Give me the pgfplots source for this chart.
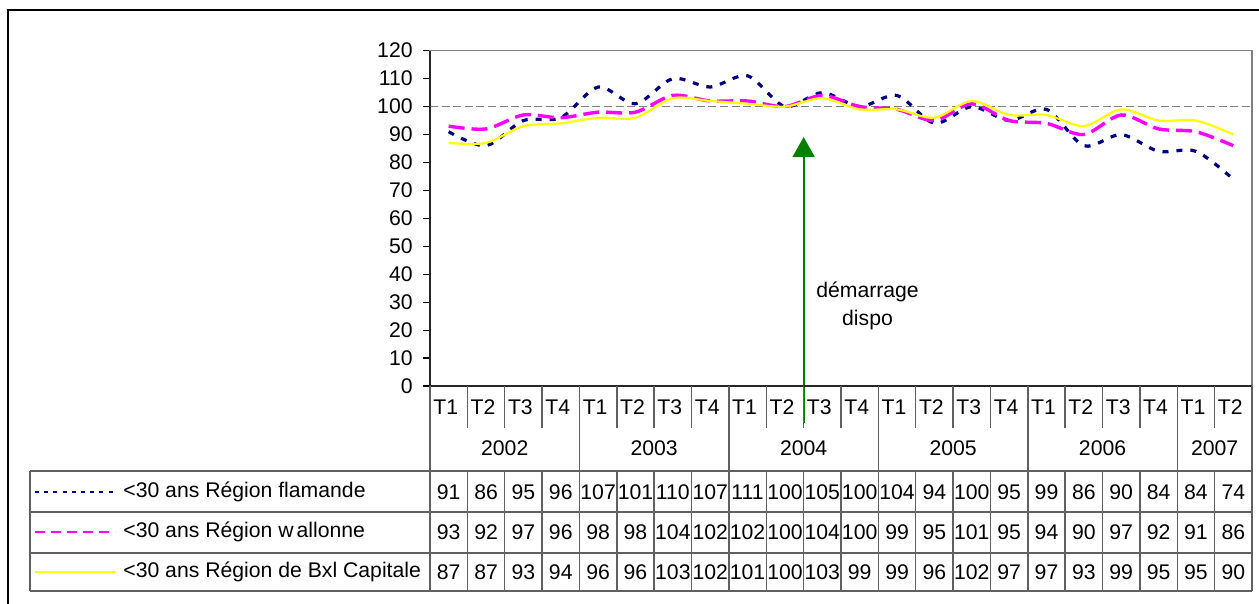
\documentclass[border=0pt]{standalone}
\usepackage{fontspec}
\setmainfont{Liberation Sans}
\usepackage{pgfplots}
\usepackage{pgfplotstable}
\pgfplotsset{compat=1.18}
\usetikzlibrary{arrows.meta}
\definecolor{navyc}{RGB}{0,0,128}
\definecolor{magc}{RGB}{255,0,255}
\definecolor{yelc}{RGB}{255,255,0}
\definecolor{grnc}{RGB}{0,128,0}
\definecolor{bordc}{RGB}{128,128,128}
\definecolor{tabc}{RGB}{96,96,96}

\pgfplotstableread{
idx fl  wa  bx
0   91  93  87
1   86  92  87
2   95  97  93
3   96  96  94
4   107 98  96
5   101 98  96
6   110 104 103
7   107 102 102
8   111 102 101
9   100 100 100
10  105 104 103
11  100 100 99
12  104 99  99
13  94  95  96
14  100 101 102
15  95  95  97
16  99  94  97
17  86  90  93
18  90  97  99
19  84  92  95
20  84  91  95
21  74  86  90
}\datatable

\begin{document}
\fontsize{10.6}{12.7}\selectfont
\begin{tikzpicture}
\useasboundingbox (-215pt,-109pt) rectangle (414.5pt,193pt);
% outer chart frame (left and top visible)
\draw[black, line width=0.8pt] (-211pt,-109pt) -- (-211pt,188pt) -- (414.5pt,188pt);
\begin{axis}[
  at={(0,0)}, anchor=south west,
  scale only axis, width=411pt, height=167.65pt,
  xmin=-0.5, xmax=21.5, ymin=0, ymax=120,
  ytick={0,10,...,120}, xtick=\empty,
  axis line style={bordc, line width=0.8pt},
  tick align=outside, major tick length=3.5pt,
  ytick pos=left,
  every tick/.style={black, line width=0.6pt},
  y tick label style={inner sep=0pt, xshift=-5pt},
  /pgf/number format/assume math mode=true,
  clip=false,
]
\addplot[bordc, line width=0.8pt, dash pattern=on 4pt off 1.8pt] coordinates {(-0.5,100) (21.5,100)};
\addplot[navyc, line width=1.6pt, dash pattern=on 3pt off 4pt, smooth] table[x=idx, y=fl] {\datatable};
\addplot[magc, line width=1.7pt, dash pattern=on 8pt off 3.5pt, smooth] table[x=idx, y=wa] {\datatable};
\addplot[yelc, line width=1.1pt, smooth] table[x=idx, y=bx] {\datatable};
\draw[grnc, line width=1pt, -{Triangle[width=11pt,length=10pt]}] (axis cs:9.5,-13.24) -- (axis cs:9.5,89.1);
\node[align=center, inner sep=0pt] at (axis cs:11.21,28.6) {démarrage\\[1.2pt]dispo};
\end{axis}
% black axis lines
\draw[black!85, line width=0.8pt] (0pt,167.65pt) -- (0pt,0pt) -- (411pt,0pt);
% table grid
\begin{scope}[tabc, line width=0.7pt]
  \foreach \y in {-42.5,-63,-83.5,-102.5} {\draw (-200pt,\y pt) -- (411pt,\y pt);}
  \draw (-200pt,-42.5pt) -- (-200pt,-102.5pt);
  \draw (0pt,0pt) -- (0pt,-102.5pt);
  \draw (411pt,0pt) -- (411pt,-102.5pt);
  \foreach \k in {1,...,21} {
    \draw ({\k*18.6818pt},0pt) -- ({\k*18.6818pt},-21pt);
    \draw ({\k*18.6818pt},-42.5pt) -- ({\k*18.6818pt},-102.5pt);
  }
  \foreach \k in {4,8,12,16,20} {\draw ({\k*18.6818pt},0pt) -- ({\k*18.6818pt},-42.5pt);}
\end{scope}
% quarter labels
\foreach \i in {0,...,21} {
  \pgfmathtruncatemacro{\q}{mod(\i,4)+1}
  \node[inner sep=0pt] at ({(\i+0.5)*18.6818pt-1.5pt},-10.5pt) {T\q};
}
% year labels
\foreach \c/\yr in {2/2002,6/2003,10/2004,14/2005,18/2006,21/2007} {
  \node[inner sep=0pt] at ({\c*18.6818pt},-31pt) {\yr};
}
% data values
\foreach \i in {0,...,21} {
  \pgfplotstablegetelem{\i}{fl}\of\datatable
  \node[inner sep=0pt] at ({(\i+0.5)*18.6818pt},-53pt) {\pgfplotsretval};
  \pgfplotstablegetelem{\i}{wa}\of\datatable
  \node[inner sep=0pt] at ({(\i+0.5)*18.6818pt},-73pt) {\pgfplotsretval};
  \pgfplotstablegetelem{\i}{bx}\of\datatable
  \node[inner sep=0pt] at ({(\i+0.5)*18.6818pt},-93pt) {\pgfplotsretval};
}
% legend keys
\draw[navyc, line width=1pt, dash pattern=on 2pt off 2.6pt] (-197.5pt,-53pt) -- (-157.5pt,-53pt);
\draw[magc, line width=1pt, dash pattern=on 5pt off 3pt] (-197.5pt,-73pt) -- (-157.5pt,-73pt);
\draw[yelc, line width=1pt] (-197.5pt,-93pt) -- (-157.5pt,-93pt);
\node[anchor=west, inner sep=0pt] at (-153.5pt,-53pt) {<30 ans Région flamande};
\node[anchor=west, inner sep=0pt] at (-153.5pt,-73pt) {<30 ans Région w\kern1.5pt allonne};
\node[anchor=west, inner sep=0pt] at (-153.5pt,-93pt) {<30 ans Région de Bxl Capitale};
\end{tikzpicture}
\end{document}
